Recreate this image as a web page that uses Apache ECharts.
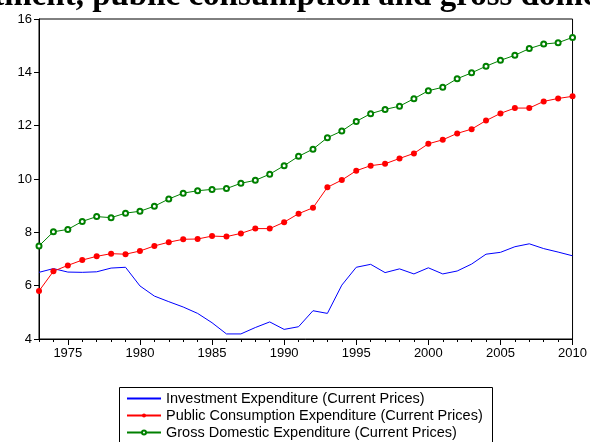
<!DOCTYPE html>
<html>
<head>
<meta charset="utf-8">
<script src="https://cdn.jsdelivr.net/npm/echarts@6/dist/echarts.min.js"></script>
<style>
html, body { margin: 0; padding: 0; background: #fff; }
#chart { width: 590px; height: 442px; }
</style>
</head>
<body>
<div id="chart"></div>
<script>
// years 1973..2010
const years = [1973, 1974, 1975, 1976, 1977, 1978, 1979, 1980, 1981, 1982,
    1983, 1984, 1985, 1986, 1987, 1988, 1989, 1990, 1991, 1992,
    1993, 1994, 1995, 1996, 1997, 1998, 1999, 2000, 2001, 2002,
    2003, 2004, 2005, 2006, 2007, 2008, 2009, 2010];

const investment = [6.50, 6.64, 6.51, 6.50, 6.52, 6.66, 6.69, 5.99, 5.61, 5.40,
    5.20, 4.96, 4.61, 4.19, 4.19, 4.43, 4.64, 4.36, 4.46, 5.06,
    4.96, 6.02, 6.69, 6.80, 6.49, 6.63, 6.44, 6.67, 6.44, 6.55,
    6.81, 7.18, 7.25, 7.46, 7.57, 7.39, 7.26, 7.12];

const publicConsumption = [5.80, 6.54, 6.76, 6.96, 7.10, 7.20, 7.18, 7.30, 7.49, 7.63,
    7.74, 7.75, 7.86, 7.84, 7.96, 8.14, 8.14, 8.38, 8.70, 8.92,
    9.69, 9.96, 10.31, 10.50, 10.57, 10.77, 10.96, 11.32, 11.47, 11.71,
    11.87, 12.19, 12.46, 12.66, 12.66, 12.91, 13.02, 13.10];

const grossDomestic = [7.49, 8.02, 8.11, 8.41, 8.59, 8.55, 8.72, 8.79, 8.98, 9.25,
    9.47, 9.56, 9.61, 9.64, 9.84, 9.95, 10.18, 10.50, 10.85, 11.12,
    11.55, 11.80, 12.16, 12.45, 12.61, 12.73, 13.01, 13.31, 13.44, 13.76,
    13.98, 14.23, 14.45, 14.64, 14.89, 15.06, 15.11, 15.31];

const xTickLabels = [1975, 1980, 1985, 1990, 1995, 2000, 2005, 2010];
const yTickLabels = [4, 6, 8, 10, 12, 14, 16];

const titleText = 'Investment, public consumption and gross domestic expenditure';
const seriesNames = [
    'Investment Expenditure (Current Prices)',
    'Public Consumption Expenditure (Current Prices)',
    'Gross Domestic Expenditure (Current Prices)'
];

function pairs(vals) {
    return years.map((y, i) => [y, vals[i]]);
}

let myChart = echarts.init(document.getElementById('chart'));
let option = {
    animation: false,
    backgroundColor: '#fff',
    textStyle: { fontFamily: 'Liberation Sans, Arial, sans-serif' },
    graphic: [{
        type: 'text',
        left: -82,
        top: -20,
        style: {
            text: titleText,
            font: 'bold 33px "Liberation Serif", "Times New Roman", serif',
            fill: '#000'
        }
    }, {
        // legend frame, runs off the bottom like the original
        type: 'rect',
        shape: { x: 119.5, y: 387.5, width: 373, height: 70 },
        style: { fill: '#fff', stroke: '#000', lineWidth: 1 },
        z: -1
    }],
    grid: {
        left: 39,
        right: 17,
        top: 19,
        bottom: 103,
        show: true,
        borderColor: '#000',
        borderWidth: 1
    },
    legend: {
        orient: 'vertical',
        left: 126,
        top: 391,
        height: 60,
        padding: 0,
        itemGap: 2,
        itemWidth: 34,
        itemHeight: 5,
        textStyle: { fontSize: 14.5, color: '#000', lineHeight: 15 },
        data: [
            { name: seriesNames[0], itemStyle: { opacity: 0 } },
            { name: seriesNames[1] },
            { name: seriesNames[2] }
        ]
    },
    xAxis: [{
        type: 'value',
        min: 1973,
        max: 2010,
        axisLine: { lineStyle: { color: '#000', width: 1 } },
        axisTick: { customValues: xTickLabels, length: 6, lineStyle: { color: '#000' } },
        axisLabel: {
            customValues: xTickLabels, fontSize: 13, color: '#000', margin: 8,
            formatter: function (v) { return String(v); }
        },
        splitLine: { show: false }
    }, {
        type: 'value',
        position: 'bottom',
        min: 1973,
        max: 2010,
        interval: 1,
        axisLine: { show: false },
        axisTick: { show: true, length: 3, lineStyle: { color: '#000' } },
        axisLabel: { show: false },
        splitLine: { show: false }
    }],
    yAxis: {
        type: 'value',
        min: 4,
        max: 16,
        interval: 2,
        axisLine: { show: true, lineStyle: { color: '#000', width: 1 } },
        axisTick: { show: true, length: 5, lineStyle: { color: '#000' } },
        axisLabel: {
            fontSize: 13, color: '#000', margin: 7,
            customValues: yTickLabels
        },
        splitLine: { show: false }
    },
    series: [{
        name: seriesNames[0],
        type: 'line',
        data: pairs(investment),
        symbol: 'none',
        lineStyle: { color: '#0000ff', width: 1 },
        itemStyle: { color: '#0000ff' }
    }, {
        name: seriesNames[1],
        type: 'line',
        data: pairs(publicConsumption),
        symbol: 'circle',
        symbolSize: 6,
        lineStyle: { color: '#ff0000', width: 1 },
        itemStyle: { color: '#ff0000' }
    }, {
        name: seriesNames[2],
        type: 'line',
        data: pairs(grossDomestic),
        symbol: 'emptyCircle',
        symbolSize: 5,
        lineStyle: { color: '#008000', width: 1 },
        itemStyle: { color: '#008000', borderWidth: 1 }
    }]
};

myChart.setOption(option);
</script>
</body>
</html>
